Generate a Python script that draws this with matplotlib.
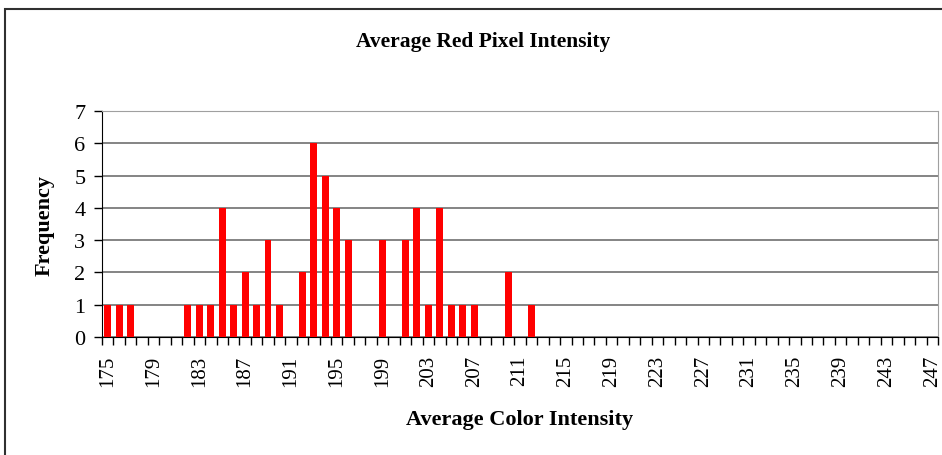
import matplotlib

matplotlib.use("Agg")
import matplotlib.pyplot as plt
from matplotlib.patches import Rectangle

# Histogram bins (average red intensity) and their counts
intensity = list(range(175, 248))
frequency = [
    1, 1, 1, 0, 0, 0, 0, 1, 1, 1, 4, 1, 2, 1, 3, 1, 0, 2, 6, 5,
    4, 3, 0, 0, 3, 0, 3, 4, 1, 4, 1, 1, 1, 0, 0, 2, 0, 1, 0, 0,
    0, 0, 0, 0, 0, 0, 0, 0, 0, 0, 0, 0, 0, 0, 0, 0, 0, 0, 0, 0,
    0, 0, 0, 0, 0, 0, 0, 0, 0, 0, 0, 0, 0,
]
tick_step = 4

plt.rcParams["font.family"] = ["Liberation Serif", "DejaVu Serif"]

W, H = 942, 456
fig = plt.figure(figsize=(W / 100, H / 100), dpi=100)
fig.patch.set_facecolor("white")

# outer chart border
fig.patches.append(
    Rectangle((5 / W, -0.05), 1.0, 1 - 10 / H + 0.05, transform=fig.transFigure,
              fill=False, edgecolor="#303030", linewidth=1.5)
)

ax = fig.add_axes([102 / W, 1 - 338 / H, (938 - 102) / W, (338 - 112) / H])

positions = range(len(intensity))
ax.bar(positions, frequency, width=0.6, color="#ff0000", zorder=3)

ax.set_xlim(-0.5, len(intensity) - 0.5)
ax.set_ylim(0, 7)
ax.set_yticks(range(0, 8))

ax.set_xticks([i for i in positions if i % tick_step == 0])
ax.set_xticklabels([str(intensity[i]) for i in positions if i % tick_step == 0],
                   rotation=90, fontsize=15)
ax.set_xticks([i + 0.5 for i in range(-1, len(intensity))], minor=True)
ax.tick_params(axis="x", which="major", length=0, pad=13)
ax.tick_params(axis="x", which="minor", length=6, width=1, color="black")
ax.tick_params(axis="y", length=6, width=1, labelsize=16, pad=6)

ax.yaxis.grid(True, color="#707070", linewidth=1.2, zorder=0)
for side in ["top", "right"]:
    ax.spines[side].set_color("#a0a0a0")
ax.spines["left"].set_color("black")
ax.spines["bottom"].set_color("black")

fig.text(483 / W, 1 - 42 / H, "Average Red Pixel Intensity", ha="center", va="center",
         fontsize=15.5, fontweight="bold")
fig.text(520 / W, 1 - 420 / H, "Average Color Intensity", ha="center", va="center",
         fontsize=16, fontweight="bold")
fig.text(45 / W, 1 - 225 / H, "Frequency", ha="center", va="center", rotation=90,
         fontsize=16, fontweight="bold")

fig.savefig("out.png", dpi=100)
